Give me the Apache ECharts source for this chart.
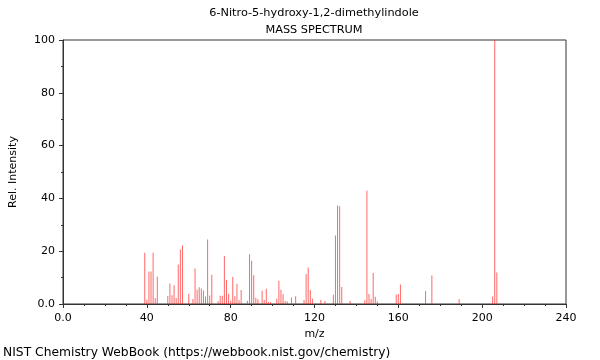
<!DOCTYPE html>
<html>
<head>
<meta charset="utf-8">
<script src="https://cdn.jsdelivr.net/npm/echarts@6/dist/echarts.min.js"></script>
<style>html,body{margin:0;padding:0;background:#fff;}#c{width:600px;height:360px;}</style>
</head>
<body>
<div id="c"></div>
<script>
const mz = [39,40,41,42,43,44,45,50,51,52,53,54,55,56,57,60,62,63,64,65,66,67,68,69,70,71,
  74,75,76,77,78,79,80,81,82,83,84,85,88,89,90,91,92,93,95,96,97,98,99,
  102,103,104,105,106,107,109,111,115,116,117,118,119,123,125,129,130,131,132,133,137,
  144,145,146,147,148,149,150,159,160,161,173,176,189,205,206,207];
const intensity = [19.4,1.6,12.3,12.3,19.4,2.3,10.3,3.0,7.8,3.3,7.1,2.3,15.0,20.6,22.2,3.9,1.9,13.4,5.4,6.3,5.9,5.1,2.8,24.4,3.2,11.1,
  1.0,3.1,3.1,18.2,9.1,3.8,1.2,10.2,2.9,7.7,1.4,5.3,1.2,18.8,16.4,10.9,2.4,1.8,5.0,1.5,5.8,0.8,0.8,
  2.0,8.8,5.4,3.7,1.1,0.9,2.5,2.9,1.5,11.4,13.8,5.3,2.0,1.5,1.1,3.5,25.9,37.3,37.0,6.4,1.1,
  1.4,42.9,3.8,1.9,11.7,2.7,0.9,3.6,3.8,7.4,4.9,10.8,1.9,2.8,100,11.9];
const xTicks = [0,40,80,120,160,200,240];
const yTicks = [0,20,40,60,80,100];
const titleLines = ['6-Nitro-5-hydroxy-1,2-dimethylindole','MASS SPECTRUM'];
const footer = 'NIST Chemistry WebBook (https://webbook.nist.gov/chemistry)';

const font = 'DejaVu Sans';
const chart = echarts.init(document.getElementById('c'), null, {renderer:'canvas'});
chart.setOption({
  animation:false,
  backgroundColor:'#fff',
  graphic:[
    {type:'text', x:314, y:13, silent:true, style:{text:titleLines[0], align:'center', verticalAlign:'middle', fontFamily:font, fontSize:11.3, fill:'#000'}},
    {type:'text', x:314, y:30, silent:true, style:{text:titleLines[1], align:'center', verticalAlign:'middle', fontFamily:font, fontSize:11.3, fill:'#000'}},
    {type:'text', x:3, y:353, silent:true, style:{text:footer, align:'left', verticalAlign:'middle', fontFamily:font, fontSize:12.3, fill:'#000'}}
  ],
  grid:{left:61,right:34,top:40,bottom:56,show:true,borderColor:'#333',borderWidth:1,backgroundColor:'transparent'},
  xAxis:{
    type:'value', min:xTicks[0], max:xTicks[xTicks.length-1], interval:40,
    name:'m/z', nameLocation:'middle', nameGap:24,
    nameTextStyle:{fontFamily:font,fontSize:11,color:'#000'},
    axisLine:{show:true,onZero:false,lineStyle:{color:'#333'}},
    axisTick:{show:true,length:4,lineStyle:{color:'#333'}},
    minorTick:{show:true,splitNumber:4,length:2,lineStyle:{color:'#333'}},
    splitLine:{show:false},
    axisLabel:{fontFamily:font,fontSize:11,color:'#000',margin:9,formatter:v=>v===0?'0.0':String(v)}
  },
  yAxis:{
    type:'value', min:yTicks[0], max:yTicks[yTicks.length-1], interval:20,
    name:'Rel. Intensity', nameLocation:'middle', nameGap:44, nameRotate:90,
    nameTextStyle:{fontFamily:font,fontSize:11,color:'#000'},
    axisLine:{show:true,lineStyle:{color:'#333'}},
    axisTick:{show:true,length:4,lineStyle:{color:'#333'}},
    minorTick:{show:true,splitNumber:2,length:2,lineStyle:{color:'#333'}},
    splitLine:{show:false},
    axisLabel:{fontFamily:font,fontSize:11,color:'#000',margin:8,formatter:v=>v===0?'0.0':String(v)}
  },
  series:[{
    type:'bar', barWidth:1,
    data:mz.map((m,i)=>[m,intensity[i]]),
    itemStyle:{color:'rgba(255,40,40,0.7)'},
    silent:true
  }]
});
</script>
</body>
</html>
